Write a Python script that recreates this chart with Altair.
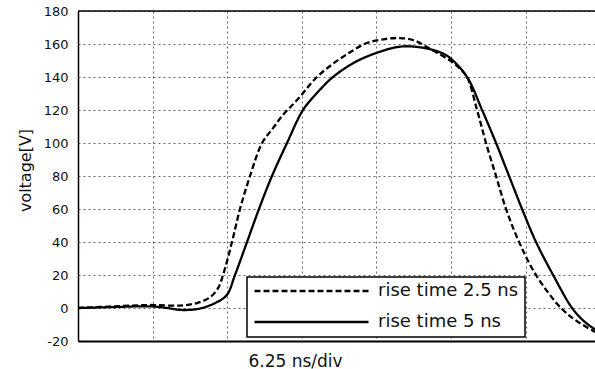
import altair as alt
import pandas as pd

# time in ns (6.25 ns per division), voltage in V
t_5ns = [0, 3.10, 6.03, 7.29, 8.71, 10.22, 11.65, 12.48, 13.15, 14.16, 15.16, 16.25, 17.51,
         18.85, 20.11, 21.36, 23.21, 24.97, 26.98, 28.65, 30.33, 31.17, 32.59, 33.85,
         35.02, 36.11, 37.20, 38.37, 39.80, 41.39, 42.39, 43.31]
v_5ns = [0, 0.6, 1.0, 0.2, -1.2, -0.3, 3.6, 8, 20, 40, 60, 80, 100,
         120, 131, 140, 149, 154.5, 158.4, 158, 155, 151.5, 140, 120,
         100, 80, 60, 40, 20, 0, -8, -13]

t_25ns = [0, 3.10, 6.03, 8.55, 9.97, 11.06, 11.73, 12.15, 12.90, 13.57, 14.41, 15.42, 16.34,
          17.17, 18.35, 20.02, 21.36, 22.79, 24.21, 25.72, 26.98, 28.23, 29.74, 31.17,
          32.00, 32.59, 33.43, 34.18, 35.02, 35.86, 36.95, 38.37, 40.46, 41.81, 43.31]
v_25ns = [0, 1, 1.8, 1.5, 3, 6.5, 12, 20, 40, 60, 80, 100, 109,
          117, 126, 140, 148, 155, 160.6, 163, 163.6, 162, 156, 150,
          145, 140, 120, 100, 80, 60, 40, 20, 0, -8, -14.5]

series_names = ["rise time 2.5 ns", "rise time 5 ns"]
y_ticks = [-20, 0, 20, 40, 60, 80, 100, 120, 140, 160, 180]
x_ticks = [0, 6.25, 12.5, 18.75, 25, 31.25, 37.5]
top_value = [180]

df = pd.concat([
    pd.DataFrame({"t": t_25ns, "v": v_25ns, "series": series_names[0]}),
    pd.DataFrame({"t": t_5ns, "v": v_5ns, "series": series_names[1]}),
])

FONT = "DejaVu Sans"

y_enc = alt.Y("v:Q",
              scale=alt.Scale(domain=[-20, 180], nice=False, zero=False),
              axis=alt.Axis(values=y_ticks, ticks=False, labelFontSize=13, labelFont=FONT,
                            labelColor="#111", labelPadding=10, labelOverlap=False,
                            labelExpr="'' + datum.value", title="voltage[V]",
                            titleX=-53, titleY=159, titleAngle=270, titleAlign="center",
                            titleBaseline="middle", titleFontSize=16, titleFont=FONT,
                            titleFontWeight="normal", titleColor="#111",
                            domainColor="black", domainWidth=1.5,
                            grid=True, gridColor="#666", gridDash=[2, 3], gridWidth=1))

lines = alt.Chart(df).mark_line(interpolate="catmull-rom", color="black", strokeWidth=2.3).encode(
    x=alt.X("t:Q",
            scale=alt.Scale(domain=[0, 43.31], nice=False, zero=False),
            axis=alt.Axis(values=x_ticks, labels=False, ticks=False, title="6.25 ns/div",
                          titleX=217, titleY=25, titleAlign="center", titleBaseline="alphabetic",
                          titleFontSize=17, titleFont=FONT, titleFontWeight="normal",
                          titleColor="#111", domainColor="black", domainWidth=2,
                          grid=True, gridColor="#666", gridDash=[2, 3], gridWidth=1)),
    y=y_enc,
    strokeDash=alt.StrokeDash("series:N",
                              scale=alt.Scale(domain=series_names, range=[[6, 3], [1, 0]]),
                              legend=alt.Legend(title=None, orient="none", legendX=169, legendY=266,
                                                direction="vertical", symbolType="stroke",
                                                symbolSize=12996, symbolStrokeWidth=2.3,
                                                symbolStrokeColor="black", labelFont=FONT,
                                                labelFontSize=18, labelColor="#111", labelOffset=8,
                                                clipHeight=16, rowPadding=13, padding=6,
                                                strokeColor="black", fillColor="white")),
)

top_border = alt.Chart(pd.DataFrame({"v": top_value})).mark_rule(color="black", strokeWidth=1.5).encode(
    y=y_enc
)

chart = alt.layer(lines, top_border).properties(
    width=517, height=330,
    autosize=alt.AutoSizeParams(type="none"),
    padding={"left": 78, "top": 11, "right": 0, "bottom": 28},
    background="white",
).configure_view(stroke=None).configure_legend(strokeWidth=1.5)

chart.save("out.html", embed_options={"renderer": "svg", "actions": False})
